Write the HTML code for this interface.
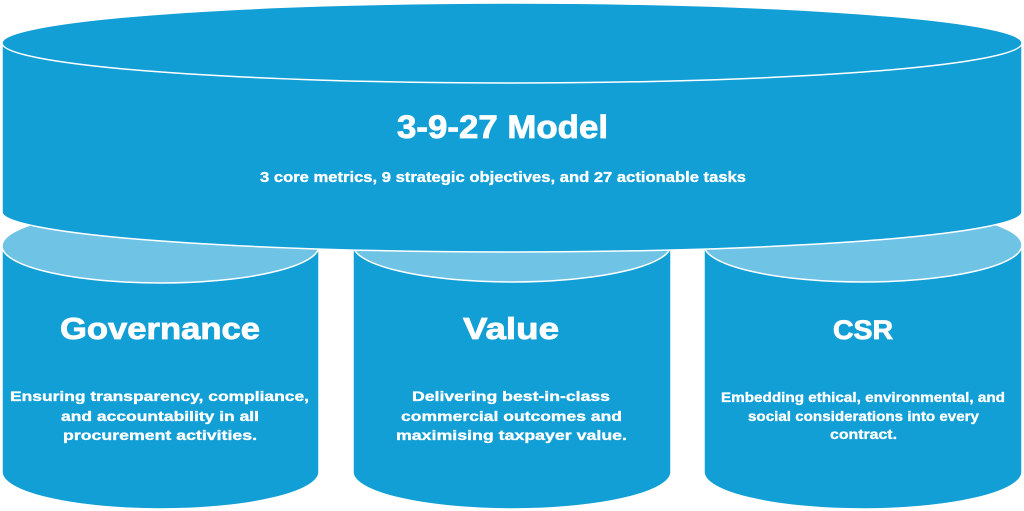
<!DOCTYPE html>
<html><head><meta charset="utf-8"><style>
html,body{margin:0;padding:0;background:#fff;}
svg{display:block;}
text{font-family:"Liberation Sans",sans-serif;font-weight:bold;fill:#fff;stroke:#fff;}
.t{stroke-width:0.8;}
.d{stroke-width:0.35;}
</style></head><body>
<svg width="1024" height="511" viewBox="0 0 1024 511" xmlns="http://www.w3.org/2000/svg">
<!-- small cylinders -->
<g stroke="#fff" stroke-width="1.5">
<path d="M2,246 L2,472 A158.5,37 0 0 0 319,472 L319,246 Z" fill="#129FD6"/>
<ellipse cx="160.5" cy="246" rx="158.5" ry="37" fill="#6FC4E5"/>
<path d="M353,245 L353,472 A159,37 0 0 0 671,472 L671,245 Z" fill="#129FD6"/>
<ellipse cx="512" cy="245" rx="159" ry="37" fill="#6FC4E5"/>
<path d="M704,245 L704,472 A159,37 0 0 0 1022,472 L1022,245 Z" fill="#129FD6"/>
<ellipse cx="863" cy="245" rx="159" ry="37" fill="#6FC4E5"/>
<!-- top cylinder -->
<path d="M2,43 A510,40 0 0 1 1022,43 L1022,212 A510,40 0 0 1 2,212 Z" fill="#129FD6"/>
<ellipse cx="512" cy="43" rx="510" ry="40" fill="#129FD6"/>
</g>
<text class="t" x="502.5" y="138" font-size="32" text-anchor="middle" textLength="211" lengthAdjust="spacingAndGlyphs">3-9-27 Model</text>
<text class="d" x="503" y="182" font-size="15" text-anchor="middle" textLength="486" lengthAdjust="spacingAndGlyphs">3 core metrics, 9 strategic objectives, and 27 actionable tasks</text>

<text class="t" x="160" y="339" font-size="31" text-anchor="middle" textLength="200" lengthAdjust="spacingAndGlyphs">Governance</text>
<text class="d" x="159.5" y="401" font-size="14" text-anchor="middle" textLength="299" lengthAdjust="spacingAndGlyphs">Ensuring transparency, compliance,</text>
<text class="d" x="160" y="421" font-size="14" text-anchor="middle" textLength="198" lengthAdjust="spacingAndGlyphs">and accountability in all</text>
<text class="d" x="160" y="440" font-size="14" text-anchor="middle" textLength="194" lengthAdjust="spacingAndGlyphs">procurement activities.</text>

<text class="t" x="511" y="339" font-size="31" text-anchor="middle" textLength="96" lengthAdjust="spacingAndGlyphs">Value</text>
<text class="d" x="511" y="401" font-size="14" text-anchor="middle" textLength="198" lengthAdjust="spacingAndGlyphs">Delivering best-in-class</text>
<text class="d" x="511.5" y="421" font-size="14" text-anchor="middle" textLength="221" lengthAdjust="spacingAndGlyphs">commercial outcomes and</text>
<text class="d" x="511.5" y="440" font-size="14" text-anchor="middle" textLength="231" lengthAdjust="spacingAndGlyphs">maximising taxpayer value.</text>

<text class="t" x="863" y="339" font-size="27" text-anchor="middle" textLength="60" lengthAdjust="spacingAndGlyphs">CSR</text>
<text class="d" x="863" y="402" font-size="14" text-anchor="middle" textLength="284" lengthAdjust="spacingAndGlyphs">Embedding ethical, environmental, and</text>
<text class="d" x="863.5" y="421" font-size="14" text-anchor="middle" textLength="231" lengthAdjust="spacingAndGlyphs">social considerations into every</text>
<text class="d" x="863.5" y="439" font-size="14" text-anchor="middle" textLength="67" lengthAdjust="spacingAndGlyphs">contract.</text>
</svg>
</body></html>
